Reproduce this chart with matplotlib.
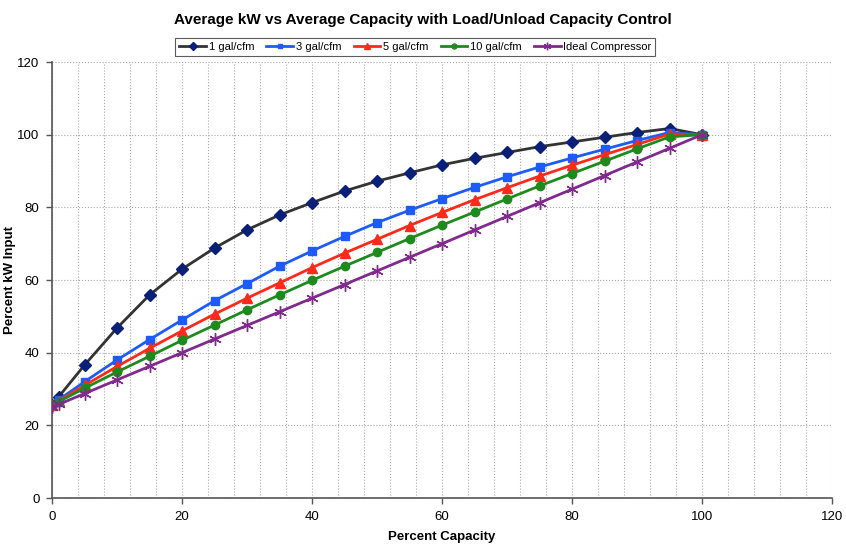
import matplotlib.pyplot as plt
from matplotlib.ticker import MultipleLocator

plt.rcParams['font.family'] = ['Liberation Sans', 'DejaVu Sans']

# percent capacity
capacity = [0, 1, 5, 10, 15, 20, 25, 30, 35, 40, 45, 50, 55, 60, 65, 70, 75, 80, 85, 90, 95, 100]

# percent kW input per receiver size
kw_1gal = [25.6, 27.8, 36.6, 46.8, 55.9, 63.0, 68.8, 73.8, 77.9, 81.3, 84.5, 87.2, 89.5, 91.7,
           93.5, 95.1, 96.7, 98.0, 99.3, 100.6, 101.7, 100.0]
kw_3gal = [25.6, 27.0, 32.0, 38.0, 43.6, 49.0, 54.3, 59.0, 63.8, 68.0, 72.0, 75.8, 79.2, 82.4,
           85.5, 88.4, 91.1, 93.6, 96.0, 98.4, 100.6, 100.0]
kw_5gal = [25.6, 26.7, 31.0, 36.2, 41.2, 46.0, 50.6, 55.0, 59.2, 63.4, 67.4, 71.2, 75.0, 78.6,
           82.1, 85.4, 88.6, 91.6, 94.5, 97.3, 100.2, 100.0]
kw_10gal = [25.6, 26.5, 30.2, 34.7, 39.0, 43.4, 47.6, 51.8, 55.9, 59.9, 63.8, 67.6, 71.4, 75.1,
            78.7, 82.3, 85.9, 89.3, 92.7, 96.1, 99.4, 100.0]
kw_ideal = [25.0, 25.75, 28.75, 32.5, 36.25, 40.0, 43.75, 47.5, 51.25, 55.0, 58.75, 62.5, 66.25,
            70.0, 73.75, 77.5, 81.25, 85.0, 88.75, 92.5, 96.25, 100.0]

fig = plt.figure(figsize=(8.46, 5.45), dpi=100)
ax = fig.add_axes([0.0615, 0.0862, 0.922, 0.80])

ax.plot(capacity, kw_1gal, color='#333333', lw=2, marker='D', ms=6.5,
        mfc='#0A1F78', mec='#0A1F78', label='1 gal/cfm', zorder=3)
ax.plot(capacity, kw_3gal, color='#1E5BFF', lw=2, marker='s', ms=6,
        mfc='#1E5BFF', mec='#1E5BFF', label='3 gal/cfm', zorder=3)
ax.plot(capacity, kw_5gal, color='#FF2A1A', lw=2, marker='^', ms=6.5,
        mfc='#FF2A1A', mec='#FF2A1A', label='5 gal/cfm', zorder=3)
ax.plot(capacity, kw_10gal, color='#1E8A1E', lw=2, marker='o', ms=6,
        mfc='#1E8A1E', mec='#1E8A1E', label='10 gal/cfm', zorder=3)
ax.plot(capacity, kw_ideal, color='#7F2A8C', lw=2, marker=(6, 2, 0), ms=9, mew=1.0,
        mec='#7F2A8C', label='Ideal Compressor', zorder=3)

ax.set_xlim(0, 120)
ax.set_ylim(0, 120)
ax.xaxis.set_major_locator(MultipleLocator(20))
ax.xaxis.set_minor_locator(MultipleLocator(4))
ax.yaxis.set_major_locator(MultipleLocator(20))
ax.grid(True, which='major', axis='y', color='#a8a8a8', ls=':', lw=0.8)
ax.grid(True, which='both', axis='x', color='#a8a8a8', ls=':', lw=0.8)
ax.tick_params(which='minor', length=0)
ax.tick_params(which='major', length=4, color='#555555', labelsize=9.5, width=1, pad=5)

for s in ['top', 'right']:
    ax.spines[s].set_visible(False)
for s in ['left', 'bottom']:
    ax.spines[s].set_color('#555555')
    ax.spines[s].set_linewidth(1.2)

ax.set_xlabel('Percent Capacity', fontsize=9.5, fontweight='bold')
ax.set_ylabel('Percent kW Input', fontsize=9.5, fontweight='bold')
ax.xaxis.set_label_coords(0.5, -0.089)
ax.yaxis.set_label_coords(-0.054, 0.5)
ax.xaxis.label.set_va('center')
ax.yaxis.label.set_va('center')
fig.suptitle('Average kW vs Average Capacity with Load/Unload Capacity Control',
             fontsize=11, fontweight='bold', y=0.964, va='center')

leg = fig.legend(loc='center', bbox_to_anchor=(0.491, 0.914), ncol=5, fontsize=8,
                 frameon=True, fancybox=False, edgecolor='#333333',
                 handlelength=2.4, handletextpad=0.25, columnspacing=1.1,
                 borderpad=0.35, markerscale=0.6)
leg.get_frame().set_linewidth(0.8)

fig.savefig('out.png', dpi=100)
